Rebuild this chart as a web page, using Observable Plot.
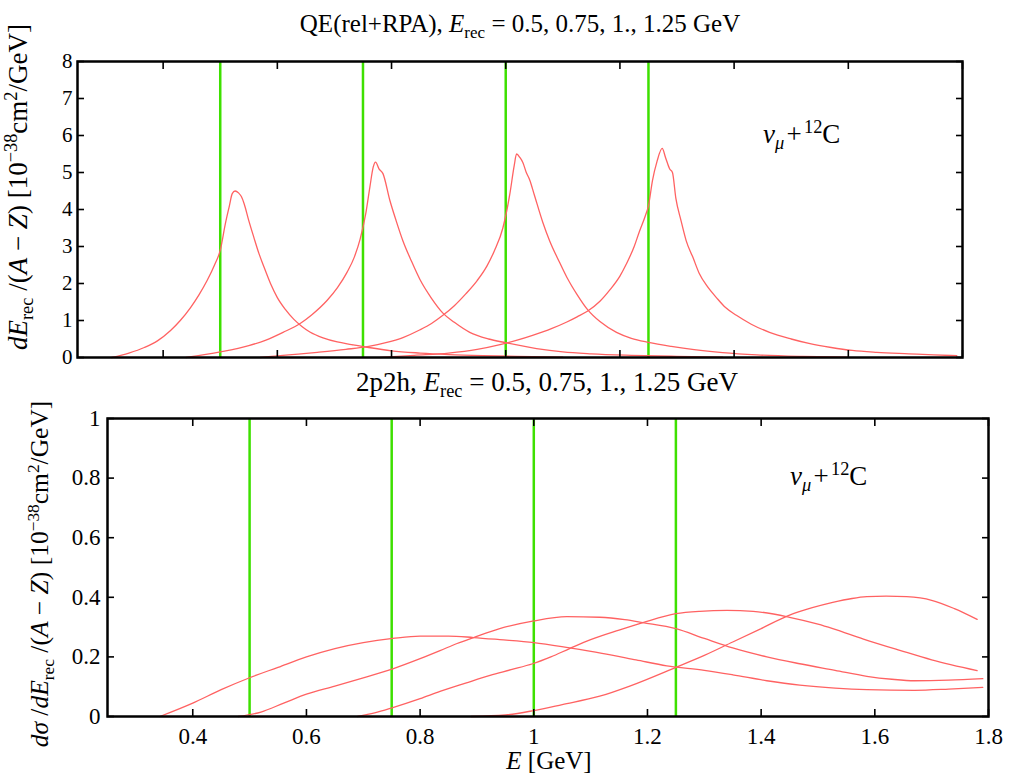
<!DOCTYPE html>
<html><head><meta charset="utf-8">
<script src="https://cdn.jsdelivr.net/npm/d3@7"></script>
<script src="https://cdn.jsdelivr.net/npm/@observablehq/plot@0.6"></script>
<style>
html,body{margin:0;padding:0;background:#fff;}
#wrap{position:relative;width:1009px;height:778px;overflow:hidden;font-family:"Liberation Serif",serif;color:#000;background:#fff;}
.c{position:absolute;white-space:nowrap;transform:translate(-50%,-50%);line-height:1;}
.r{position:absolute;white-space:nowrap;transform:translate(-50%,-50%) rotate(-90deg);line-height:1;}
.l{position:absolute;white-space:nowrap;line-height:1;}
sub,sup{font-size:68%;line-height:0;}
svg{position:absolute;left:0;}
</style></head><body><div id="wrap"></div>
<script>
// ---- data ----
const xTicks = [0.4, 0.6, 0.8, 1.0, 1.2, 1.4, 1.6, 1.8];
const xTickLabels = ["0.4", "0.6", "0.8", "1", "1.2", "1.4", "1.6", "1.8"];
const qeYTicks = [0, 1, 2, 3, 4, 5, 6, 7, 8];
const mecYTicks = [0, 0.2, 0.4, 0.6, 0.8, 1];
const mecYTickLabels = ["0", "0.2", "0.4", "0.6", "0.8", "1"];
const eRec = [0.5, 0.75, 1.0, 1.25];
const seriesNames = ["0.5", "0.75", "1.", "1.25"];

// QE (rel+RPA) curves: [E, dσ/dErec]
const qe050 = [[0.31,0],[0.34,0.12],[0.367,0.27],[0.39,0.45],[0.413,0.73],[0.43,1.0],[0.448,1.35],[0.463,1.7],[0.477,2.08],[0.49,2.5],[0.5,2.9],[0.509,3.62],[0.516,4.1],[0.521,4.43],[0.526,4.5],[0.532,4.45],[0.537,4.35],[0.542,4.15],[0.55,3.7],[0.559,3.24],[0.568,2.8],[0.577,2.43],[0.588,2.0],[0.6,1.62],[0.614,1.3],[0.629,1.03],[0.643,0.84],[0.657,0.69],[0.68,0.53],[0.705,0.42],[0.73,0.35],[0.76,0.27],[0.8,0.18],[0.85,0.12],[0.9,0.08],[0.96,0.05],[1.02,0.03],[1.1,0.01]];
const qe075 = [[0.44,0],[0.5,0.15],[0.55,0.32],[0.58,0.47],[0.61,0.68],[0.64,0.92],[0.66,1.15],[0.687,1.54],[0.705,1.88],[0.722,2.3],[0.735,2.72],[0.745,3.2],[0.755,3.9],[0.762,4.6],[0.768,5.15],[0.772,5.28],[0.778,5.1],[0.785,4.97],[0.797,4.25],[0.808,3.7],[0.82,3.15],[0.835,2.6],[0.85,2.1],[0.87,1.6],[0.89,1.2],[0.91,0.95],[0.937,0.68],[0.97,0.5],[1.0,0.4],[1.054,0.24],[1.1,0.15],[1.15,0.1],[1.22,0.06],[1.3,0.03],[1.38,0.01]];
const qe100 = [[0.57,0],[0.62,0.07],[0.67,0.14],[0.72,0.22],[0.76,0.3],[0.79,0.4],[0.82,0.54],[0.85,0.75],[0.87,0.92],[0.89,1.14],[0.91,1.4],[0.93,1.72],[0.95,2.08],[0.967,2.47],[0.98,2.88],[0.995,3.5],[1.007,4.4],[1.015,5.2],[1.019,5.5],[1.025,5.4],[1.03,5.27],[1.036,5.0],[1.042,4.8],[1.05,4.4],[1.065,3.65],[1.077,3.15],[1.094,2.58],[1.107,2.17],[1.125,1.7],[1.143,1.3],[1.165,0.97],[1.194,0.68],[1.22,0.52],[1.25,0.41],[1.29,0.3],[1.33,0.21],[1.38,0.13],[1.44,0.07],[1.52,0.03],[1.6,0.01]];
const qe125 = [[0.78,0],[0.84,0.06],[0.9,0.12],[0.95,0.22],[0.99,0.35],[1.02,0.47],[1.047,0.6],[1.08,0.78],[1.107,0.96],[1.125,1.1],[1.143,1.25],[1.165,1.52],[1.182,1.82],[1.2,2.2],[1.211,2.52],[1.225,3.0],[1.234,3.4],[1.245,3.85],[1.25,4.1],[1.257,4.78],[1.265,5.3],[1.274,5.65],[1.28,5.4],[1.287,5.1],[1.292,5.0],[1.298,4.3],[1.307,3.7],[1.316,3.16],[1.328,2.7],[1.339,2.27],[1.354,1.9],[1.369,1.62],[1.385,1.35],[1.404,1.14],[1.43,0.9],[1.462,0.68],[1.5,0.5],[1.531,0.38],[1.57,0.27],[1.607,0.19],[1.65,0.14],[1.706,0.1],[1.75,0.07],[1.79,0.05]];

// 2p2h curves: [E, dσ/dErec]
const mec050 = [[0.342,0],[0.4,0.045],[0.45,0.09],[0.5,0.13],[0.55,0.165],[0.6,0.2],[0.65,0.228],[0.7,0.248],[0.752,0.262],[0.8,0.27],[0.85,0.27],[0.894,0.265],[0.94,0.258],[1.0,0.248],[1.063,0.23],[1.12,0.212],[1.18,0.19],[1.234,0.17],[1.3,0.155],[1.35,0.14],[1.41,0.12],[1.468,0.105],[1.53,0.095],[1.586,0.09],[1.67,0.088],[1.73,0.092],[1.79,0.098]];
const mec075 = [[0.48,0],[0.52,0.015],[0.56,0.045],[0.6,0.075],[0.65,0.102],[0.7,0.13],[0.752,0.16],[0.8,0.194],[0.835,0.221],[0.865,0.245],[0.894,0.265],[0.94,0.295],[0.998,0.32],[1.058,0.335],[1.116,0.333],[1.16,0.325],[1.192,0.315],[1.25,0.295],[1.3,0.262],[1.35,0.23],[1.41,0.2],[1.468,0.177],[1.53,0.155],[1.586,0.135],[1.63,0.125],[1.67,0.12],[1.73,0.122],[1.79,0.127]];
const mec100 = [[0.69,0],[0.72,0.012],[0.752,0.03],[0.8,0.06],[0.835,0.084],[0.88,0.112],[0.923,0.138],[0.96,0.157],[0.998,0.177],[1.03,0.2],[1.063,0.228],[1.1,0.258],[1.15,0.29],[1.192,0.315],[1.25,0.345],[1.292,0.353],[1.34,0.356],[1.386,0.353],[1.45,0.333],[1.5,0.31],[1.526,0.295],[1.58,0.26],[1.644,0.222],[1.7,0.19],[1.78,0.154]];
const mec125 = [[0.89,0],[0.95,0.005],[1.0,0.02],[1.05,0.04],[1.116,0.068],[1.17,0.103],[1.25,0.165],[1.3,0.205],[1.35,0.25],[1.4,0.295],[1.45,0.34],[1.49,0.365],[1.526,0.383],[1.56,0.396],[1.586,0.402],[1.62,0.404],[1.656,0.402],[1.7,0.39],[1.74,0.362],[1.78,0.326]];

// ---- build ----
const toRows = (list) => list.flatMap((arr, k) => arr.map(([e, v]) => ({s: seriesNames[k], e, v})));
const qeRows = toRows([qe050, qe075, qe100, qe125]);
const mecRows = toRows([mec050, mec075, mec100, mec125]);

const FONT = '"Liberation Serif", "Times New Roman", serif';
const RED = "#ff6262";
const GREEN = "#3ee000";
const blank = () => "";

const topPlot = Plot.plot({
  width: 1009, height: 372,
  marginLeft: 77, marginRight: 47, marginTop: 61, marginBottom: 15,
  x: {domain: [0.25, 1.8]},
  y: {domain: [0, 8]},
  style: {fontFamily: FONT, fontSize: "21px", color: "#000", background: "transparent", overflow: "visible"},
  marks: [
    Plot.ruleX(eRec, {x: d => d, stroke: GREEN, strokeWidth: 2.5}),
    Plot.line(qeRows, {x: "e", y: "v", z: "s", stroke: RED, strokeWidth: 1.3, curve: "monotone-x"}),
    Plot.axisX({anchor: "bottom", ticks: xTicks, tickSize: -7, tickFormat: blank, label: null, strokeWidth: 1.6}),
    Plot.axisX({anchor: "top", ticks: xTicks, tickSize: -7, tickFormat: blank, label: null, strokeWidth: 1.6}),
    Plot.axisY({anchor: "left", ticks: qeYTicks, tickSize: -7, tickPadding: 12, tickFormat: d => String(d), label: null, strokeWidth: 1.6}),
    Plot.axisY({anchor: "right", ticks: qeYTicks, tickSize: -7, tickFormat: blank, label: null, strokeWidth: 1.6}),
    Plot.frame({stroke: "#000", strokeWidth: 2.5})
  ]
});

const bottomPlot = Plot.plot({
  width: 1009, height: 406,
  marginLeft: 107, marginRight: 21, marginTop: 46, marginBottom: 62,
  x: {domain: [0.25, 1.8]},
  y: {domain: [0, 1]},
  style: {fontFamily: FONT, fontSize: "23px", color: "#000", background: "transparent", overflow: "visible"},
  marks: [
    Plot.ruleX(eRec, {x: d => d, stroke: GREEN, strokeWidth: 2.5}),
    Plot.line(mecRows, {x: "e", y: "v", z: "s", stroke: RED, strokeWidth: 1.3, curve: "monotone-x"}),
    Plot.axisX({anchor: "bottom", ticks: xTicks, tickSize: -7, tickPadding: 18, tickFormat: d => xTickLabels[xTicks.indexOf(d)], label: null, strokeWidth: 1.6}),
    Plot.axisX({anchor: "top", ticks: xTicks, tickSize: -7, tickFormat: blank, label: null, strokeWidth: 1.6}),
    Plot.axisY({anchor: "left", ticks: mecYTicks, tickSize: -7, tickPadding: 14, tickFormat: d => mecYTickLabels[mecYTicks.indexOf(d)], label: null, strokeWidth: 1.6}),
    Plot.axisY({anchor: "right", ticks: mecYTicks, tickSize: -7, tickFormat: blank, label: null, strokeWidth: 1.6}),
    Plot.frame({stroke: "#000", strokeWidth: 2.5})
  ]
});

const wrap = document.getElementById("wrap");
topPlot.style.top = "0px";
bottomPlot.style.top = "372px";
wrap.appendChild(topPlot);
wrap.appendChild(bottomPlot);

function addHTML(cls, html, x, y, size) {
  const d = document.createElement("div");
  d.className = cls;
  d.innerHTML = html;
  d.style.left = x + "px";
  d.style.top = y + "px";
  d.style.fontSize = size + "px";
  wrap.appendChild(d);
  return d;
}
const Erec = "<i>E</i><sub>rec</sub>";
addHTML("c", `QE(rel+RPA), ${Erec} = 0.5, 0.75, 1., 1.25 GeV`, 520, 23, 25);
addHTML("c", `2p2h, ${Erec} = 0.5, 0.75, 1., 1.25 GeV`, 547, 382, 27);
const nuC = "<i>ν</i><sub><i>μ</i></sub>&#8202;+&#8202;<sup>12</sup>C";
addHTML("l", nuC, 763, 121, 27);
addHTML("l", nuC, 790, 463, 27);
addHTML("c", "<i>E</i> [GeV]", 549, 760, 25);
addHTML("r", `<i>dσ</i> /<i>dE</i><sub>rec</sub> /(<i>A</i> − <i>Z</i>) [10<sup>−38</sup>cm<sup>2</sup>/GeV]`, 40, 574, 25.5);
addHTML("r", `<i>dE</i><sub>rec</sub> /(<i>A</i> − <i>Z</i>) [10<sup>−38</sup>cm<sup>2</sup>/GeV]`, 18, 187, 27);
</script>
</body></html>
